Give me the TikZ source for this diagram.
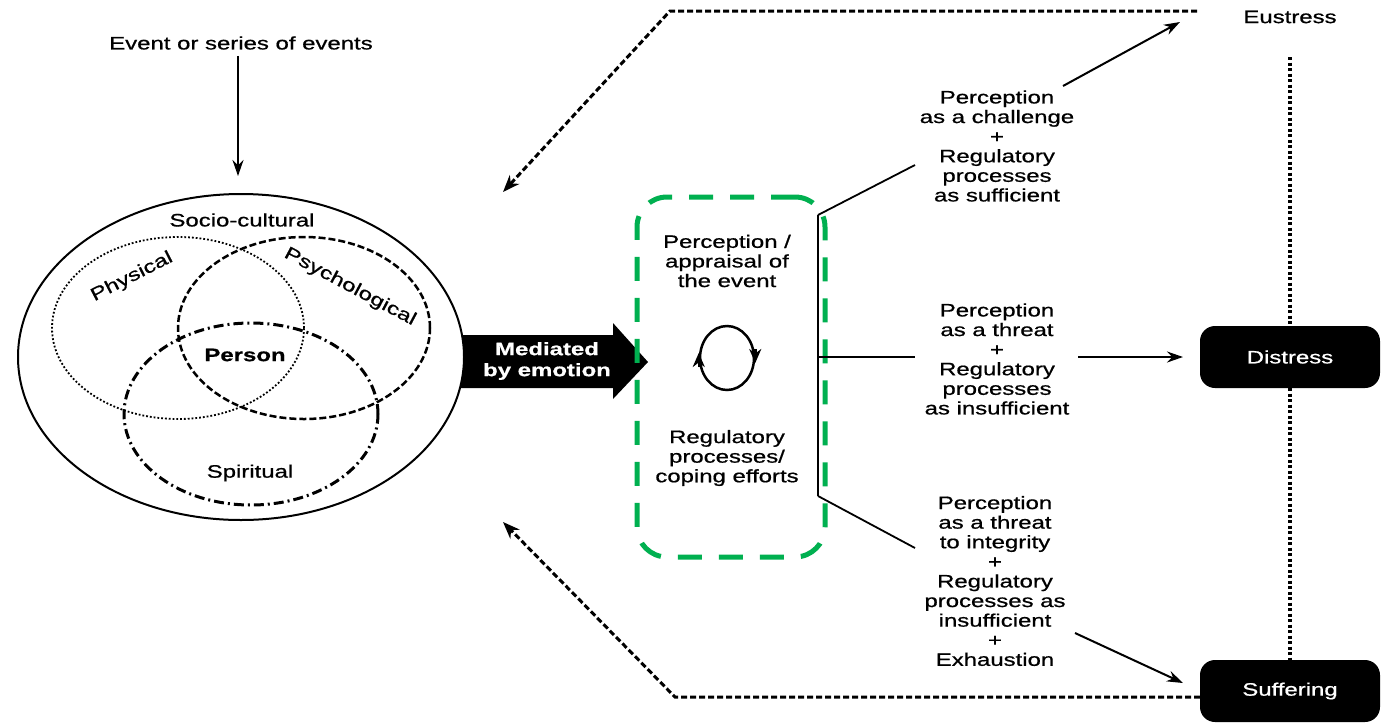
\documentclass[tikz,border=0pt]{standalone}
\usepackage{fontspec}
\setmainfont{Liberation Sans}[FakeStretch=1.33, FakeBold=0.8]
\usetikzlibrary{arrows.meta,shapes.geometric}
\definecolor{boxgreen}{RGB}{0,176,80}
\begin{document}
\begin{tikzpicture}[x=1pt,y=-1pt,
  txt/.style={font=\fontsize{18}{19.6}\selectfont, align=center, inner sep=0pt},
  btxt/.style={txt, font=\fontsize{18}{21}\selectfont\bfseries},
  tipline/.style={line width=2pt, -{Stealth[length=16pt,width=11pt]}},
  fbline/.style={line width=3pt, dash pattern=on 6pt off 3pt, -{Stealth[length=17pt,width=13pt]}},
  venn/.style={ellipse, inner sep=0pt, minimum width=252pt, minimum height=182pt},
  blackbox/.style={fill=black, rounded corners=15pt, minimum width=180pt, minimum height=62pt, text=white, font=\fontsize{18}{19.6}\selectfont, inner sep=0pt},
]
\useasboundingbox[fill=white] (0,0) rectangle (1387,724);

% title and incoming arrow
\node[txt] (event) at (241,43) {Event or series of events};
\coordinate (evtip) at (238,176);
\draw[tipline] (event.south -| evtip) ++(0,6) -- (evtip);

% mediated arrow (drawn before the outer ellipse so the ellipse covers its tail)
\fill[black] (440,335) -- (613,335) -- (613,323) -- (648,362) -- (613,399) -- (613,388) -- (440,388) -- cycle;
\node[btxt, text=white] (med) at (547,361) {Mediated\\by emotion};

% person ellipses
\node[ellipse, draw, fill=white, line width=2pt, inner sep=0pt, minimum width=446pt, minimum height=326pt] (outer) at (241,357) {};
\node[venn, draw, line width=1.8pt, dotted] (phys) at (178,328) {};
\node[venn, draw, line width=2.5pt, dash pattern=on 7pt off 3pt] (psych) at (304,328) {};
\node[venn, draw, line width=3pt, dash pattern=on 10pt off 4pt on 2pt off 4pt, minimum width=254pt] (spir) at (251,414) {};
\node[txt] (socio) at (242,220) {Socio-cultural};
\node[txt, rotate=27] (physl) at (132,277) {Physical};
\node[txt, rotate=-28] (psychl) at (350,287) {Psychological};
\node[txt, font=\fontsize{18}{19.6}\selectfont\bfseries] (person) at (245,355) {Person};
\node[txt] (spirl) at (250,473) {Spiritual};

% green box
\node[draw=boxgreen, line width=5pt, dash pattern=on 24pt off 17pt, rounded corners=30pt, minimum width=188pt, minimum height=360pt] (gbox) at (731,377) {};
\node[txt] (appr) at (727,261) {Perception /\\appraisal of\\the event};
\node[txt] (reg) at (727,458) {Regulatory\\processes/\\coping efforts};
\node[ellipse, draw, line width=2.5pt, minimum width=54pt, minimum height=64pt, inner sep=0pt] (cyc) at (727,358) {};
\draw[line width=2.5pt, -{Stealth[length=14pt,width=12pt]}] (cyc.west) ++(0,9) -- ++(0,-14);
\draw[line width=2.5pt, -{Stealth[length=14pt,width=12pt]}] (cyc.east) ++(0,-9) -- ++(0,14);

% bracket
\coordinate (bt) at (818,215);
\coordinate (bm) at (818,357);
\coordinate (bb) at (818,496);
\draw[line width=2.5pt] (bt) -- (bb);
\coordinate (t1in) at (915,165);
\coordinate (t2in) at (915,357);
\coordinate (t3in) at (915,548);
\draw[line width=1.8pt] (bt) -- (t1in);
\draw[line width=1.8pt] (bm) -- (t2in);
\draw[line width=1.8pt] (bb) -- (t3in);

% outcome texts
\node[txt] (t1) at (997,146) {Perception\\as a challenge\\+\\Regulatory\\processes\\as sufficient};
\node[txt] (t2) at (997,359) {Perception\\as a threat\\+\\Regulatory\\processes\\as insufficient};
\node[txt] (t3) at (995,581) {Perception\\as a threat\\to integrity\\+\\Regulatory\\processes as\\insufficient\\+\\Exhaustion};

% outcomes
\node[txt] (eu) at (1290,17) {Eustress};
\node[blackbox] (dis) at (1290,357) {Distress};
\node[blackbox] (suf) at (1290,691) {Suffering};

\coordinate (a1s) at (1063,86);
\coordinate (a1e) at (1180,22);
\coordinate (a2s) at (1078,357);
\coordinate (a2e) at (1183,357);
\coordinate (a3s) at (1075,633);
\coordinate (a3e) at (1183,683);
\draw[tipline] (a1s) -- (a1e);
\draw[tipline] (a2s) -- (a2e);
\draw[tipline] (a3s) -- (a3e);

% dotted continuum
\coordinate (eub) at (1290,57);
\draw[line width=3.5pt, dash pattern=on 3pt off 2.5pt] (eub) -- (dis.north);
\draw[line width=3.5pt, dash pattern=on 3pt off 2.5pt] (dis.south) -- (suf.north);

% feedback loops
\coordinate (fbt0) at (1197,11);
\coordinate (fbt1) at (670,11);
\coordinate (fbt2) at (503,192);
\draw[fbline] (fbt0) -- (fbt1) -- (fbt2);
\coordinate (fbb0) at (1200,697);
\coordinate (fbb1) at (675,697);
\coordinate (fbb2) at (503,522);
\draw[fbline] (fbb0) -- (fbb1) -- (fbb2);
\end{tikzpicture}
\end{document}
